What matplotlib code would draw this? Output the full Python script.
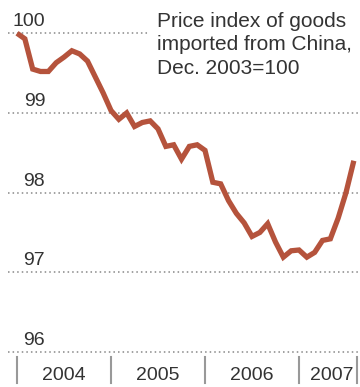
import matplotlib

matplotlib.use("Agg")

import matplotlib.pyplot as plt  # noqa: E402
import pandas as pd  # noqa: E402

# monthly index, Dec. 2003 = 100
months = pd.period_range("2003-12", "2007-07", freq="M")
index_values = [
    100.0, 99.93, 99.55, 99.52, 99.52, 99.63, 99.7, 99.78, 99.74, 99.65, 99.45, 99.25,
    99.03, 98.92, 99.0, 98.83, 98.88, 98.9, 98.8, 98.58, 98.6, 98.42, 98.58, 98.6,
    98.53, 98.13, 98.11, 97.9, 97.74, 97.62, 97.45, 97.5, 97.61, 97.38, 97.19, 97.27,
    97.28, 97.19, 97.25, 97.4, 97.42, 97.68, 98.0, 98.4,
]
y_ticks = [96, 97, 98, 99, 100]
years = [2004, 2005, 2006, 2007]
year_label_pos = [2004.5, 2005.5, 2006.5, 2007.35]
title = "Price index of goods\nimported from China,\nDec. 2003=100"

LINE = "#b5533c"
GRID = "#888888"
TEXT = "#333333"

plt.rcParams["font.family"] = ["Liberation Sans", "DejaVu Sans"]

fig = plt.figure(figsize=(3.6, 3.87), dpi=100)
fig.patch.set_facecolor("white")
ax = fig.add_axes([8 / 360, 35 / 387, 352 / 360, 352 / 387])
ax.set_xlim(2003.904, 2007.649)
ax.set_ylim(96, 100.417)
ax.axis("off")

x = [p.year + p.month / 12 for p in months]

for v in y_ticks:
    ax.axhline(v, color=GRID, linewidth=1.1, linestyle=(0, (1, 2)), clip_on=False, zorder=1)
    ax.annotate(str(v), xy=(2004.30, v), xytext=(0, 5), textcoords="offset points",
                ha="right", va="baseline", fontsize=14, color=TEXT)

ax.plot(x, index_values, color=LINE, linewidth=3.8, solid_joinstyle="miter",
        solid_capstyle="butt", zorder=3, clip_on=False)

trans = ax.get_xaxis_transform()
for yr in years + [2007.62]:
    ax.plot([yr, yr], [-0.014, -0.088], transform=trans, color="#999999",
            linewidth=1.5, clip_on=False)
for yr, pos in zip(years, year_label_pos):
    ax.text(pos, -0.066, str(yr), transform=trans, ha="center", va="center",
            fontsize=14, color=TEXT)

fig.text(157 / 360, 1 - 12 / 387, title, ha="left", va="top", fontsize=15,
         color=TEXT, linespacing=1.3, zorder=5,
         bbox=dict(facecolor="white", edgecolor="none", pad=5))

fig.savefig("out.png", dpi=100)
plt.close(fig)
